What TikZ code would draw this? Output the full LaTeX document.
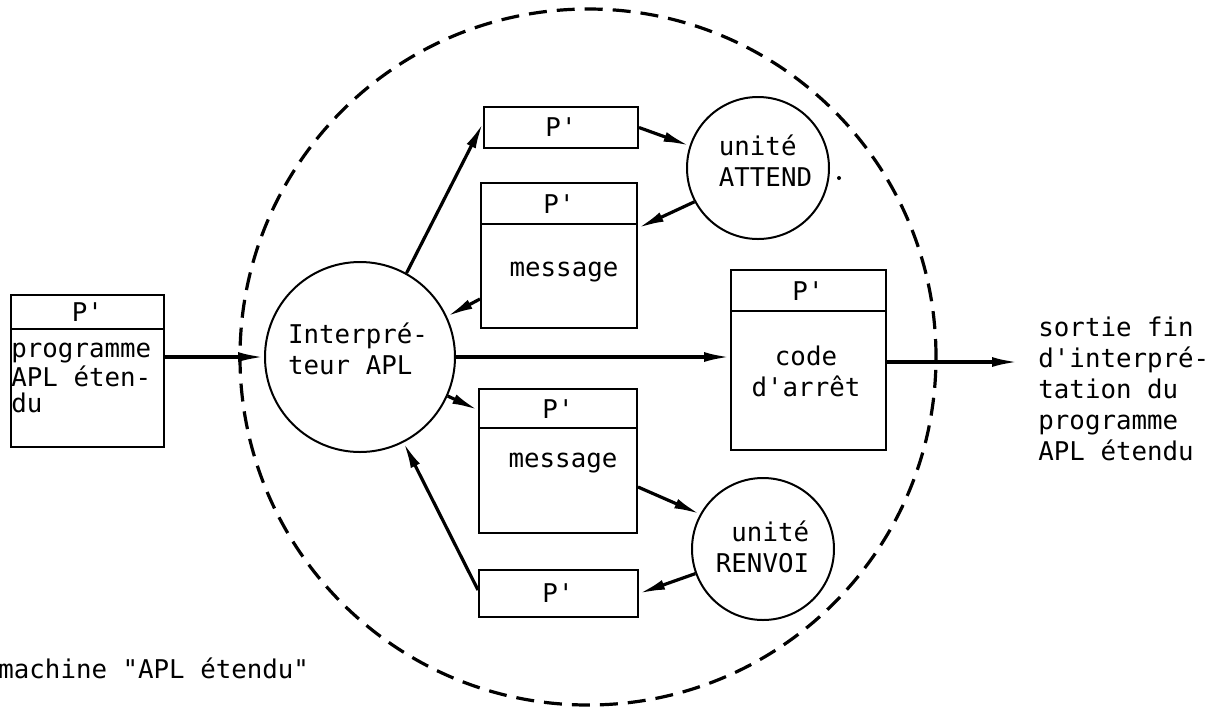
\documentclass[tikz,border=0pt]{standalone}
\usepackage{fontspec}
\setmonofont{DejaVu Sans Mono}
\usetikzlibrary{arrows.meta}
\begin{document}
\begin{tikzpicture}[x=0.5pt,y=-0.5pt,
  every node/.style={font=\ttfamily\fontsize{12.9pt}{15.5pt}\selectfont, inner sep=0pt},
  box/.style={draw, line width=1pt, rectangle, inner sep=0pt},
  unit/.style={draw, line width=1pt, circle, inner sep=0pt},
  flow/.style={line width=1.6pt, -{Latex[length=13pt,width=5pt]}},
  hdr/.style={line width=0.9pt},
  machine/.style={line width=1.6pt, dash pattern=on 9pt off 5pt}]
\useasboundingbox (0,0) rectangle (1228,709);

% machine boundary
\node[draw, machine, circle, minimum size=348pt] (mach) at (588,357) {};

% boxes
\node[box, minimum width=76.5pt, minimum height=76pt] (src) at (87.5,371) {};
\draw[hdr] ([yshift=-17.5pt]src.north west) -- ([yshift=-17.5pt]src.north east);
\node (srcP) at (87.5,312) {P'};
\node[align=left, anchor=west, font=\ttfamily\fontsize{12.9pt}{13pt}\selectfont] (srcT) at (11,378) {programme\\APL éten-\\du};

\node[box, minimum width=77pt, minimum height=20.5pt] (pA) at (561,127.5) {};
\node (pAt) at (561,127) {P'};

\node[box, minimum width=78pt, minimum height=72.5pt] (mA) at (559,255.5) {};
\draw[hdr] ([yshift=-21pt]mA.north west) -- ([yshift=-21pt]mA.north east);
\node (mAP) at (559,204) {P'};
\node (mAt) at (564,272) {message};

\node[box, minimum width=77.5pt, minimum height=90pt] (code) at (808.5,360) {};
\draw[hdr] ([yshift=-21pt]code.north west) -- ([yshift=-21pt]code.north east);
\node (codeP) at (808,291) {P'};
\node[align=center] (codet) at (806,371.5) {code\\d'arrêt};

\node[box, minimum width=79pt, minimum height=72pt] (mB) at (558,461) {};
\draw[hdr] ([yshift=-20pt]mB.north west) -- ([yshift=-20pt]mB.north east);
\node (mBP) at (558,409) {P'};
\node (mBt) at (563,463) {message};

\node[box, minimum width=79.5pt, minimum height=23.5pt] (pB) at (558.5,593.5) {};
\node (pBt) at (558,593) {P'};

% units
\node[unit, minimum size=95pt] (interp) at (360,357) {};
\node[align=left] (interpT) at (358,349) {Interpré-\\teur APL};

\node[unit, minimum size=71pt] (att) at (758,168) {};
\node[align=left] (attT) at (765.5,161) {unité\\ATTEND};
\node[circle, fill, minimum size=2pt] (speck) at (839,178) {};

\node[unit, minimum size=71pt] (ren) at (763,549) {};
\node[align=right] (renT) at (762.5,547) {unité\\RENVOI};

% labels
\node[align=left, anchor=west] (sortie) at (1038,388.5) {sortie fin\\d'interpré-\\tation du\\programme\\APL étendu};
\node[anchor=west] (machT) at (-2,668) {machine "APL étendu"};

% connectors
\draw[flow] (src.east |- interp.west) -- (interp.west);
\draw[flow] (interp.61.8) -- ([yshift=2.25pt]pA.west);
\draw[flow] ([yshift=-21.75pt]mA.west) -- (interp.25.2);
\draw[flow] (pA.east) -- (att.162.4);
\draw[flow] (att.208.3) -- ([yshift=13.75pt]mA.east);
\draw[flow] (interp.-24.7) -- ([yshift=25.5pt]mB.west);
\draw[flow] ([yshift=-13pt]mB.east) -- (ren.151.6);
\draw[flow] (ren.200.9) -- (pB.east);
\draw[flow] ([yshift=1.75pt]pB.west) -- (interp.-63.7);
\draw[flow] (interp.east) -- (code.west |- interp.east);
\coordinate (exit) at (1018,362);
\draw[flow] (code.east |- exit) -- (exit);
\end{tikzpicture}
\end{document}
